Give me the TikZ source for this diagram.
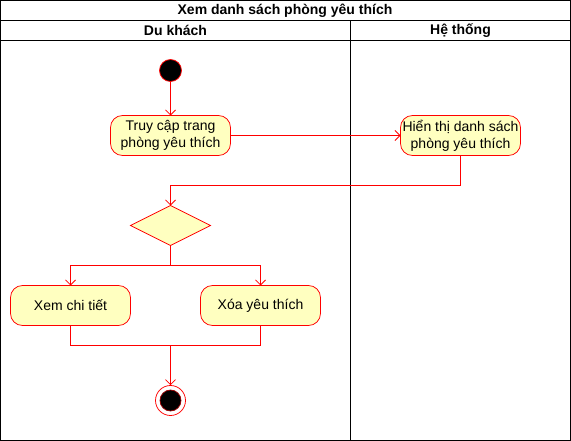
\documentclass[tikz,border=0pt]{standalone}
\usepackage{fontspec}
\setmainfont{Liberation Sans}
\usetikzlibrary{arrows.meta,shapes.geometric}
\definecolor{actfill}{HTML}{FFFFC0}
\begin{document}
\begin{tikzpicture}[x=1pt,y=-1pt, font=\fontsize{14}{17}\selectfont,
 act/.style={draw=red, fill=actfill, rounded corners=12pt, minimum width=120pt, minimum height=40pt, inner sep=0pt, outer sep=0pt, align=center, line width=0.75pt},
 flow/.style={draw=red, line width=0.75pt, -{Straight Barb[length=5pt,width=10pt]}},
 plain/.style={draw=red, line width=0.75pt},
 lane/.style={draw=black, line width=0.75pt},
 hdr/.style={font=\fontsize{14}{16}\selectfont\bfseries, inner sep=0pt}]
\useasboundingbox (0,0) rectangle (571,441);
% frame and lanes
\draw[lane] (0.5,0.5) rectangle (570.5,440.5);
\draw[lane] (0.5,20.5) -- (570.5,20.5);
\draw[lane] (0.5,40.5) -- (570.5,40.5);
\draw[lane] (350.5,20.5) -- (350.5,440.5);
\node[hdr] (title) at (285,10.5) {Xem danh sách phòng yêu thích};
\node[hdr] (lane1) at (175.5,30.5) {Du khách};
\node[hdr] (lane2) at (460.5,30.5) {Hệ thống};
% nodes
\node[circle, draw=red, fill=black, minimum size=22pt, inner sep=0pt, line width=0.75pt] (start) at (170.5,70.5) {};
\node[act] (a1) at (170.5,135.5) {Truy cập trang\\phòng yêu thích};
\node[act] (a2) at (460.5,135.5) {Hiển thị danh sách\\phòng yêu thích};
\node[diamond, draw=red, fill=actfill, minimum width=80pt, minimum height=40pt, inner sep=0pt, outer sep=0pt, line width=0.75pt, aspect=2] (dec) at (170.5,225.5) {};
\node[act] (a3) at (70.5,305.5) {Xem chi tiết};
\node[act] (a4) at (260.5,305.5) {Xóa yêu thích};
\node[circle, draw=red, fill=white, minimum size=30pt, inner sep=0pt, line width=0.75pt] (endo) at (170.5,400.5) {};
\node[circle, draw=red!60!black, fill=black, minimum size=21pt, inner sep=0pt, line width=0.75pt] (endi) at (endo.center) {};
% connectors
\coordinate (c1) at (460.5,185.5);
\coordinate (c2) at (170.5,185.5);
\coordinate (s) at (170.5,265.5);
\coordinate (sl) at (70.5,265.5);
\coordinate (sr) at (260.5,265.5);
\coordinate (j) at (170.5,345.5);
\coordinate (jl) at (70.5,345.5);
\coordinate (jr) at (260.5,345.5);
\draw[flow] (start) -- (a1);
\draw[flow] (a1) -- (a2);
\draw[flow] (a2.south) -- (c1) -- (c2) -- (dec.north);
\draw[plain] (dec.south) -- (s);
\draw[flow] (s) -- (sl) -- (a3.north);
\draw[flow] (s) -- (sr) -- (a4.north);
\draw[plain] (a3.south) -- (jl) -- (jr) -- (a4.south);
\draw[flow] (j) -- (endo);
\end{tikzpicture}
\end{document}
